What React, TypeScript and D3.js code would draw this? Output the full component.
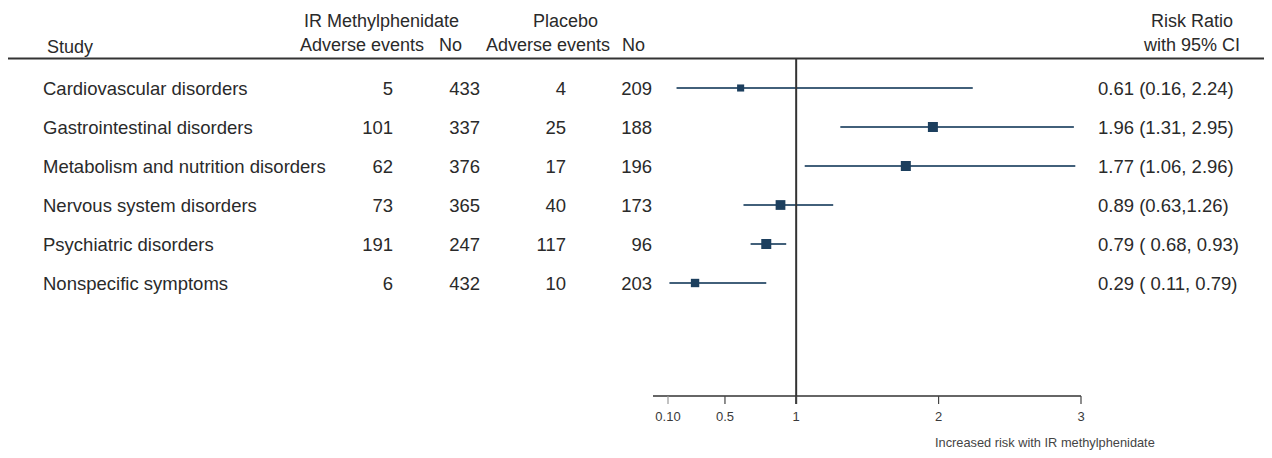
import React from "react";
import * as d3 from "d3";

const studies = [
  "Cardiovascular disorders",
  "Gastrointestinal disorders",
  "Metabolism and nutrition disorders",
  "Nervous system disorders",
  "Psychiatric disorders",
  "Nonspecific symptoms",
];
const irEvents = [5, 101, 62, 73, 191, 6];
const irNo = [433, 337, 376, 365, 247, 432];
const plEvents = [4, 25, 17, 40, 117, 10];
const plNo = [209, 188, 196, 173, 96, 203];
const rr = [0.61, 1.96, 1.77, 0.89, 0.79, 0.29];
const lo = [0.16, 1.31, 1.06, 0.63, 0.68, 0.11];
const hi = [2.24, 2.95, 2.96, 1.26, 0.93, 0.79];
const rrLabels = [
  "0.61 (0.16, 2.24)",
  "1.96 (1.31, 2.95)",
  "1.77 (1.06, 2.96)",
  "0.89 (0.63,1.26)",
  "0.79 ( 0.68, 0.93)",
  "0.29 ( 0.11, 0.79)",
];
const weights = [5, 10, 10, 9.5, 10, 7];
const tickValues = [0.1, 0.5, 1, 2, 3];
const tickLabels = ["0.10", "0.5", "1", "2", "3"];

const W = 1272;
const H = 458;
const FONT = "'Liberation Sans', Arial, sans-serif";
const TXT = "#2a2a2a";

export default function App() {
  const x = d3.scaleLinear().domain([0.1, 3]).range([668, 1081]);
  const y = d3.scalePoint<string>().domain(studies).range([88, 283]);
  const size = d3.scaleSqrt().domain([0, 10]).range([0, 10]);
  const axisY = 396;
  const colRight = [393, 480, 566, 652];
  const cols = [irEvents, irNo, plEvents, plNo];

  return (
    <div style={{ margin: -8, width: W, height: H, background: "#fff" }}>
      <svg width={W} height={H} style={{ display: "block" }} fontFamily={FONT}>
        {/* headers */}
        <g fill={TXT} fontSize={18}>
          <text x={47} y={53}>Study</text>
          <text x={304} y={27}>IR Methylphenidate</text>
          <text x={533} y={27}>Placebo</text>
          <text x={300} y={51}>Adverse events</text>
          <text x={439} y={51}>No</text>
          <text x={486} y={51}>Adverse events</text>
          <text x={622} y={51}>No</text>
          <text x={1192} y={27} textAnchor="middle">Risk Ratio</text>
          <text x={1192} y={51} textAnchor="middle">with 95% CI</text>
        </g>
        <line x1={7} x2={W} y1={58.5} y2={58.5} stroke="#333" strokeWidth={2} />

        {/* rows */}
        <g fill={TXT} fontSize={18.5}>
          {studies.map((s, i) => (
            <g key={s}>
              <text x={43} y={y(s)!} dy="0.36em">{s}</text>
              {cols.map((c, j) => (
                <text key={j} x={colRight[j]} y={y(s)!} dy="0.36em" textAnchor="end">
                  {c[i]}
                </text>
              ))}
              <text x={1098} y={y(s)!} dy="0.36em">{rrLabels[i]}</text>
            </g>
          ))}
        </g>

        {/* CI lines & markers */}
        {studies.map((s, i) => {
          const sz = size(weights[i]);
          return (
            <g key={s}>
              <line x1={x(lo[i])} x2={x(hi[i])} y1={y(s)!} y2={y(s)!} stroke="#42607a" strokeWidth={2} />
              <rect x={x(rr[i]) - sz / 2} y={y(s)! - sz / 2} width={sz} height={sz} fill="#1c3f5e" />
            </g>
          );
        })}

        {/* null line */}
        <line x1={x(1)} x2={x(1)} y1={58} y2={axisY + 8} stroke="#333" strokeWidth={2} />

        {/* axis */}
        <line x1={653} x2={x(3)} y1={axisY} y2={axisY} stroke="#333" strokeWidth={1.5} />
        {tickValues.map((t, i) => (
          <g key={t}>
            <line x1={x(t)} x2={x(t)} y1={axisY} y2={axisY + 8} stroke={i === 0 ? "#999" : "#444"} strokeWidth={1.2} />
            <text x={x(t)} y={axisY + 25} fontSize={13} fill="#3a3a3a" textAnchor="middle">
              {tickLabels[i]}
            </text>
          </g>
        ))}
        <text x={935} y={447} fontSize={12.8} fill="#444">Increased risk with IR methylphenidate</text>
      </svg>
    </div>
  );
}
